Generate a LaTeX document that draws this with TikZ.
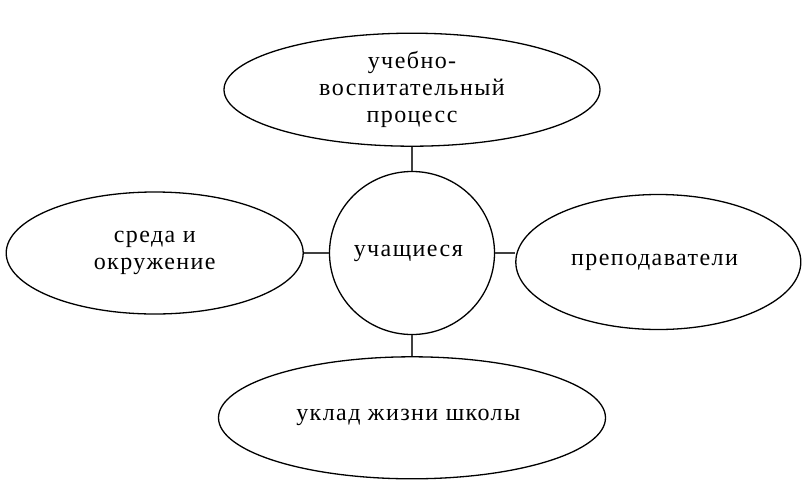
\documentclass[tikz,border=0pt]{standalone}
\usepackage{fontspec}
\setmainfont{Liberation Serif}[LetterSpace=6]
\usetikzlibrary{shapes.geometric, positioning}

\begin{document}
\begin{tikzpicture}[x=1pt, y=-1pt,
	oval/.style={draw, ellipse, line width=1.3pt, inner sep=0pt,
		align=center, font=\fontsize{24}{27}\selectfont},
	link/.style={line width=2.2pt, draw=black!75}]
	\useasboundingbox (0,0) rectangle (802,485);
	% centre node
	\node[oval,
	minimum width=165pt,
	minimum height=163pt] (pupils) at (412,253) {
	учащиеся
	};
	\node[oval,
	minimum width=376pt,
	minimum height=113pt,
	above=24pt of pupils] (process) {
	учебно-\\воспитательный\\процесс
	};
	\node[oval,
	minimum width=297pt,
	minimum height=122pt,
	left=25pt of pupils] (milieu) {
	среда и\\окружение
	};
	\node[oval,
	minimum width=285pt,
	minimum height=135pt,
	right=20pt of pupils,
	yshift=-9pt] (teachers) {
	преподаватели
	};
	\node[oval,
	minimum width=387pt,
	minimum height=122pt,
	below=21pt of pupils] (lifestyle) {
	уклад жизни школы
	};
	
	% Links
	\draw[link] (process) edge (pupils);
	\draw[link] (milieu) edge (pupils);
	\draw[link] (pupils.east) -- (pupils.east -| teachers.west);
	\draw[link] (pupils) edge (lifestyle);
\end{tikzpicture}
\end{document}
